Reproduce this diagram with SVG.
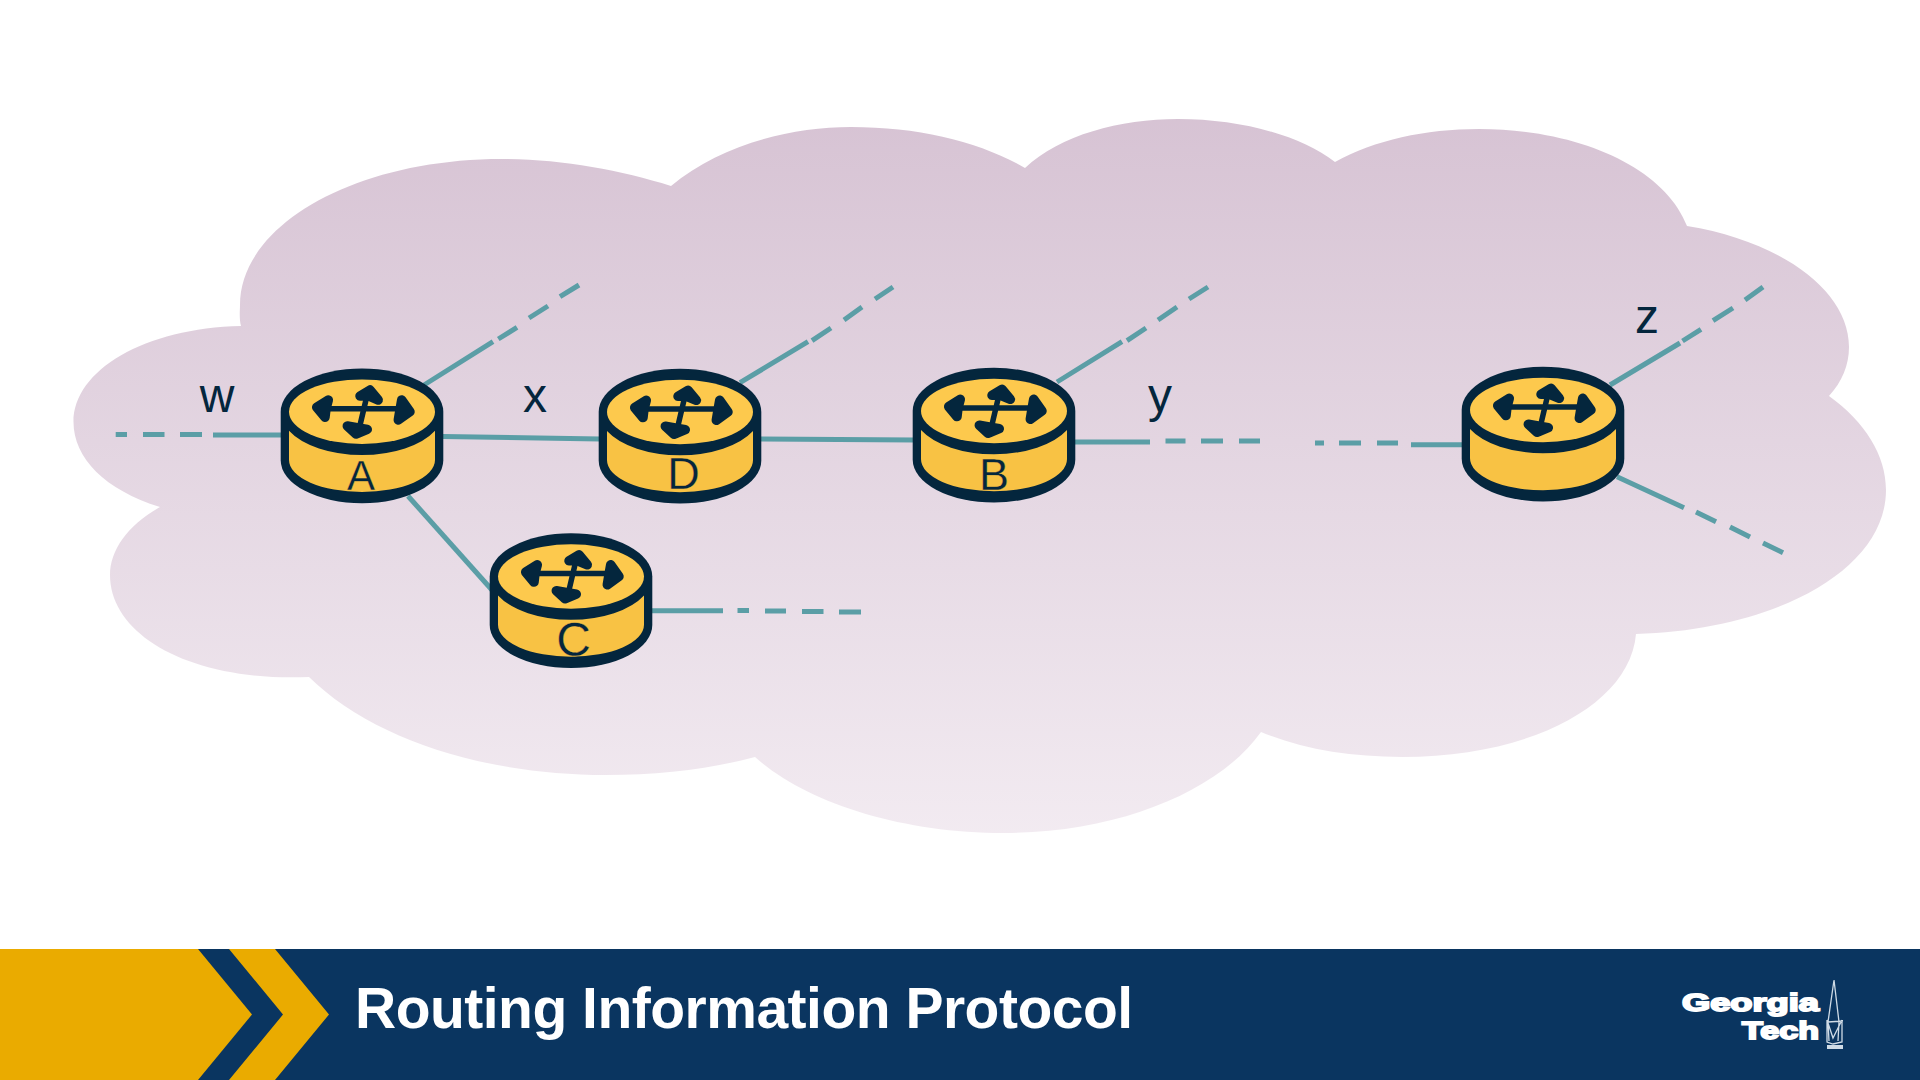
<svg xmlns="http://www.w3.org/2000/svg" width="1920" height="1080" viewBox="0 0 1920 1080">
<style>
.link{fill:none;stroke:#5b9ea6;stroke-width:5}
.dk{fill:#04263d}
.lbl{font-family:"Liberation Sans",Arial,sans-serif;fill:#04263d;text-anchor:middle}
.rl{font-size:45px;stroke:#f8c244;stroke-width:.3}
.wl{font-size:48px}
.arw{fill:#04263d;stroke:#04263d;stroke-width:9.500;stroke-linejoin:round;stroke-linecap:round}
.shaft{fill:none;stroke:#04263d;stroke-width:5.500}
.logo{font-family:"Liberation Sans",Arial,sans-serif;font-weight:700;fill:#fff;stroke:#fff;stroke-width:1.800;font-size:24px}
.sp{fill:none;stroke:#cfdbe6;stroke-width:1.300}
</style>
<defs>
<linearGradient id="cg" x1="0" y1="97" x2="0" y2="860" gradientUnits="userSpaceOnUse"><stop offset="0" stop-color="#d6c2d3"/><stop offset="1" stop-color="#f3ecf2"/></linearGradient>
<g id="router">
<path class="dk" d="M-81.300 0A81.300 43.300 0 0 1 81.300 0V48.500A81.300 43 0 0 1-81.300 48.500Z"/>
<path fill="#f8c244" d="M-73 19A81.300 43.300 0 0 0 73 19V48.300A73 32 0 0 1-73 48.300Z"/>
<ellipse fill="#fdc94d" cx="0" cy="0" rx="73" ry="32.300"/>
<path class="shaft" d="M-44-3H48M6.300-21.700L-4.300 23.300"/>
<path class="arw" d="M-33.700-11.700L-45.300-4.400L-37 5.600L-36-3Z"/>
<path class="arw" d="M39.700-11.700L48 0L36.300 8.300L38-2Z"/>
<path class="arw" d="M8-21.700L-2-15.700L6-16L16.300-11.700Z"/>
<path class="arw" d="M-6 22.300L-14.700 14.300L-5 16L5.300 17.700Z"/>
</g>
</defs>
<rect width="1920" height="1080" fill="#fff"/>
<path id="cloud" fill="url(#cg)" d="M671 186C720 145 790 127 851 127C920 127 980 142 1025 168C1060 135 1120 119 1178 119C1240 119 1300 135 1335 162C1375 140 1425 129 1479 129C1580 129 1665 168 1687 226C1780 241 1849 290 1849 347C1849 365 1842 382 1829 396C1865 422 1886 455 1886 490C1886 570 1775 630 1636 634C1630 705 1530 757 1402 757C1350 757 1301 749 1261 732C1220 790 1120 833 1004 833C900 833 805 802 755 757C710 769 660 775 606 775C480 775 370 737 309 677C190 682 110 635 110 575C110 550 128 525 160 507C105 490 73.500 458 73.500 422C73.500 370 145 328 241 326C239 318 240 310 240 305C240 225 355 159 502 159C560 159 620 170 671 186Z"/>
<g id="connectors">
<path class="link" d="M115.700 434.500H127M143 434.500H164.500M180 434.500H202M213 435H282"/>
<path class="link" d="M443 436.500L600 439M760 439L915 440"/>
<path class="link" d="M1075 442H1150M1165.500 441H1185.500M1201 441H1223M1239 441H1260M1315 443H1324M1339 443H1361M1377 443H1398M1411 444.700H1462"/>
<path class="link" d="M650 610.700H723M737.500 610.500H749M765 611H786M802 611.500H823.500M839 612H861"/>
<path class="link" d="M408 496L492 590"/>
<path class="link" d="M424 385L493 341.700M498.300 339L517 327.300M529 318L548 306M560 296.700L579 285"/>
<path class="link" d="M740 382.700L808 341.700M812 340.700L831 328M844 320L862 307M875 299L893 287"/>
<path class="link" d="M1057 382L1122 341.700M1127 340.700L1146 328M1158 320L1177 307M1189 299L1208 287"/>
<path class="link" d="M1610 385L1680 343M1682.500 341L1701 329.300M1713 320.700L1733 308M1745 300L1763 287"/>
<path class="link" d="M1617 476.700L1684 507.700M1696 512L1716 521.700M1730 527L1750 537M1763 543L1783 552.700"/>
</g>
<g id="node-A"><use href="#router" x="362" y="411.700"/><text class="lbl rl" x="361" y="490" style="font-size:42px">A</text></g>
<g id="node-D"><use href="#router" x="680" y="412"/><text class="lbl rl" x="683.500" y="489">D</text></g>
<g id="node-B"><use href="#router" x="994" y="411"/><text class="lbl rl" x="994" y="490">B</text></g>
<g id="node-C"><use href="#router" x="571" y="576.500"/><text class="lbl rl" x="573.500" y="656" style="font-size:48px">C</text></g>
<g id="node-E"><use href="#router" x="1543" y="410"/></g>
<text class="lbl wl" x="217" y="412">w</text>
<text class="lbl wl" x="535" y="412">x</text>
<text class="lbl wl" x="1160" y="412">y</text>
<text class="lbl wl" x="1647" y="333">z</text>
<g id="banner">
<rect y="949" width="1920" height="131" fill="#0a3560"/>
<path fill="#eaab00" d="M0 949H198L252 1014.500L198 1080H0Z"/>
<path fill="#eaab00" d="M229 949H275L329 1014.500L275 1080H229L283 1014.500Z"/>
<text x="355" y="1028" font-family="Liberation Sans,Arial,sans-serif" font-weight="700" font-size="57" letter-spacing="-.5" fill="#fff">Routing Information Protocol</text>
<text class="logo" x="1682" y="1011" textLength="137" lengthAdjust="spacingAndGlyphs">Georgia</text>
<text class="logo" x="1742" y="1039" textLength="77" lengthAdjust="spacingAndGlyphs">Tech</text>
<path class="sp" d="M1834 980L1828 1022L1829 1041M1834 980L1839 1022L1838 1041M1828 1022L1843 1021M1827 1020L1833 1038L1842 1020M1827 1020V1042L1833 1044L1842 1042V1020"/>
<path fill="#cfdbe6" d="M1827 1045H1843V1049H1827Z"/>
</g>
</svg>
